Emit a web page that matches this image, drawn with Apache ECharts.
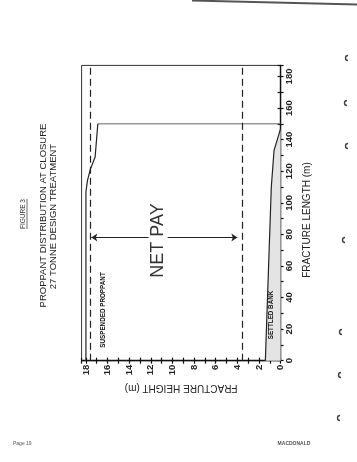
<!DOCTYPE html>
<html><head><meta charset="utf-8">
<script src="https://cdn.jsdelivr.net/npm/echarts@6/dist/echarts.min.js"></script>
<style>html,body{margin:0;padding:0;background:#fff;}#c{width:357px;height:462px;}</style>
</head><body><div id="c"></div>
<script>
// ---- data (heights and lengths in metres) ----
const lengthTicks = [0, 20, 40, 60, 80, 100, 120, 140, 160, 180];
const heightTicks = [0, 2, 4, 6, 8, 10, 12, 14, 16, 18];
// top of suspended proppant along the fracture
const proppantLength = [0, 107, 114, 121, 129, 150];
const proppantHeight = [18.0, 18.0, 17.86, 17.6, 17.15, 16.9];
// top of the settled bank
const bankLength = [0, 110, 133, 147];
const bankHeight = [1.41, 0.86, 0.61, 0];
// net pay interval
const netPayTop = 17.6;
const netPayBottom = 3.5;
const arrowLength = 78;
const arrowLeft = [17.5, 12.2];
const arrowRight = [10.45, 4.0];

const FONT = "'Liberation Sans', Arial, sans-serif";
const ink = '#222';

const chart = echarts.init(document.getElementById('c'), null, {renderer: 'canvas'});

const propData = proppantHeight.map((h, i) => [h, proppantLength[i]]);
const lastP = propData[propData.length - 1];
const tipData = [lastP, [0, lastP[1]]];
const bankData = bankHeight.map((h, i) => [h, bankLength[i]]);

function txt(x, y, text, size, opts) {
  opts = opts || {};
  return {
    type: 'text', x: x, y: y, z: 100, rotation: opts.rot === undefined ? Math.PI / 2 : opts.rot, silent: true,
    style: {
      text: text, fill: opts.color || ink,
      font: (opts.weight || 'normal') + ' ' + size + 'px ' + FONT,
      align: opts.align || 'center', verticalAlign: 'middle',
      textAlign: opts.align || 'center', textVerticalAlign: 'middle'
    }
  };
}

const axisCommonX = {
  type: 'value', min: 0, max: 18.4, interval: 1, inverse: true, position: 'bottom',
  splitLine: {show: false}
};
const axisCommonY = {
  type: 'value', min: 0, max: 187, interval: 10, position: 'right',
  splitLine: {show: false}
};

const marks = [58, 103, 146, 240, 332, 375, 418];
const markX = [346, 345, 346, 343, 340, 339, 338];

chart.setOption({
  backgroundColor: '#fff',
  animation: false,
  grid: {left: 81.6, top: 65.4, width: 199, height: 295.3, show: true,
         borderColor: '#333', borderWidth: 1, containLabel: false, outerBoundsMode: 'none'},
  xAxis: [
    Object.assign({}, axisCommonX, {
      axisLine: {lineStyle: {color: '#111', width: 1.4}},
      axisTick: {length: 3, lineStyle: {color: '#111', width: 1.2}},
      axisLabel: {rotate: 90, margin: 4, fontSize: 9.5, fontWeight: 'bold', color: ink, fontFamily: FONT,
        formatter: v => heightTicks.indexOf(v) >= 0 ? String(v) : ''},
      name: 'FRACTURE HEIGHT (m)', nameLocation: 'middle', nameRotate: 180, nameGap: 22,
      nameTextStyle: {fontSize: 10, color: ink, fontFamily: FONT}
    }),
    Object.assign({}, axisCommonX, {
      axisLine: {show: false},
      axisTick: {inside: true, length: 3, lineStyle: {color: '#111', width: 1.2}},
      axisLabel: {show: false}
    })
  ],
  yAxis: [
    Object.assign({}, axisCommonY, {
      axisLine: {lineStyle: {color: '#111', width: 1.4}},
      axisTick: {length: 3, lineStyle: {color: '#111', width: 1.2}},
      axisLabel: {rotate: 90, margin: 4, fontSize: 9.5, fontWeight: 'bold', color: ink, fontFamily: FONT,
        formatter: v => lengthTicks.indexOf(v) >= 0 ? String(v) : ''},
      name: 'FRACTURE LENGTH (m)', nameLocation: 'middle', nameRotate: 90, nameGap: 15,
      nameTextStyle: {fontSize: 10, color: ink, fontFamily: FONT, padding: [0, 14, 0, 0]}
    }),
    Object.assign({}, axisCommonY, {
      axisLine: {show: false},
      axisTick: {inside: true, length: 3, lineStyle: {color: '#111', width: 1.2}},
      axisLabel: {show: false}
    })
  ],
  series: [
    {
      type: 'custom', xAxisIndex: 0, yAxisIndex: 0, silent: true, z: 1,
      data: [[0, 0]],
      renderItem: function (params, api) {
        const pts = bankData.map(p => api.coord(p));
        pts.push(api.coord([0, 0]));
        return {type: 'polygon', shape: {points: pts}, style: {fill: '#e4e4e4'}};
      }
    },
    {
      type: 'line', name: 'Settled bank', data: bankData, showSymbol: false, silent: true, z: 3,
      lineStyle: {color: ink, width: 1.2},
      markLine: {
        silent: true, symbol: 'none', label: {show: false}, animation: false,
        lineStyle: {color: ink, type: [7, 4], width: 1.2},
        data: [{xAxis: netPayTop}, {xAxis: netPayBottom}]
      }
    },
    {
      type: 'line', name: 'Suspended proppant', data: propData, showSymbol: false, silent: true, z: 3,
      lineStyle: {color: ink, width: 1.2},
      markLine: {
        silent: true, symbol: ['none', 'arrow'], symbolSize: 6, label: {show: false}, animation: false,
        lineStyle: {color: ink, type: 'solid', width: 1},
        data: [
          [{coord: [arrowLeft[1], arrowLength]}, {coord: [arrowLeft[0], arrowLength]}],
          [{coord: [arrowRight[0], arrowLength]}, {coord: [arrowRight[1], arrowLength]}]
        ]
      }
    },
    {
      type: 'line', data: tipData, showSymbol: false, silent: true, z: 2,
      lineStyle: {color: '#666', width: 1}
    }
  ],
  graphic: [
    txt(23.5, 214, 'FIGURE 3', 6.5, {color: '#333'}),
    {type: 'line', silent: true, z: 100, shape: {x1: 27, y1: 199, x2: 27, y2: 229}, style: {stroke: '#444', lineWidth: 0.8}},
    txt(43.5, 215.5, 'PROPPANT DISTRIBUTION AT CLOSURE', 9.5),
    txt(53.5, 216.5, '27 TONNE DESIGN TREATMENT', 9.5),
    txt(158, 240.5, 'NET PAY', 18, {color: '#333'}),
    txt(103, 310, 'SUSPENDED PROPPANT', 6.3, {weight: 'bold', color: '#111'}),
    txt(271.5, 315, 'SETTLED BANK', 6.3, {weight: 'bold', color: '#111'}),
    txt(13, 444, 'Page 19', 5, {rot: 0, align: 'left', color: '#555'}),
    txt(294, 444, 'MACDONALD', 5, {rot: 0, color: '#555', weight: 'bold'}),
    {type: 'line', silent: true, z: 100, shape: {x1: 192, y1: 0.5, x2: 357, y2: 4.5}, style: {stroke: '#555', lineWidth: 2}}
  ].concat(marks.map((y, i) => ({
    type: 'arc', silent: true, z: 100,
    shape: {cx: markX[i] + 2, cy: y, r: 2.5, startAngle: Math.PI / 2, endAngle: Math.PI * 1.5, clockwise: true},
    style: {stroke: '#444', lineWidth: 1.4, fill: 'none'}
  })))
});
</script></body></html>
